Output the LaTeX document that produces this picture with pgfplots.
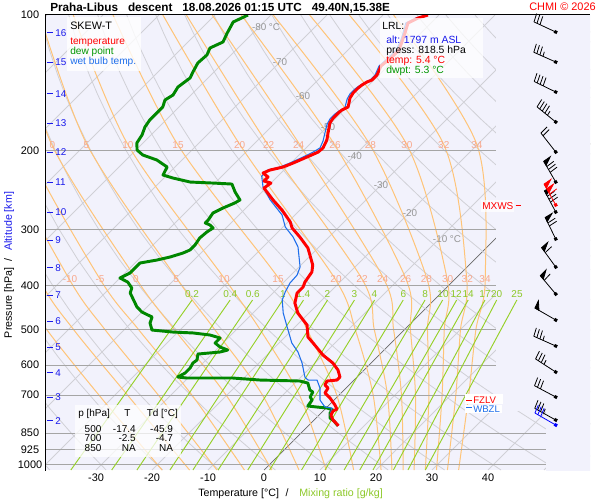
\documentclass[border=0pt]{standalone}
\usepackage{fontspec}
\setmainfont{Liberation Sans}
\usepackage{pgfplots}
\usepackage{pgfplotstable}
\pgfplotsset{compat=1.18}
\newcommand\fs[1]{\fontsize{#1}{#1}\selectfont}
\definecolor{bglav}{RGB}{242,242,252}
\definecolor{isoc}{RGB}{208,208,214}
\definecolor{zeroiso}{RGB}{105,105,105}
\definecolor{isob}{RGB}{165,165,165}
\definecolor{moistc}{RGB}{255,196,120}
\definecolor{moistlab}{RGB}{248,168,140}
\definecolor{isolab}{RGB}{150,150,150}
\definecolor{mixc}{RGB}{150,208,40}
\definecolor{mixlab}{RGB}{140,200,40}
\definecolor{dewc}{RGB}{0,135,0}
\definecolor{dewtext}{RGB}{0,150,0}
\definecolor{wbc}{RGB}{30,110,235}
\definecolor{altblue}{RGB}{25,25,235}
\def\sk{34.89}
\def\pb{1026.3}
\tikzset{
  mlab/.style={font=\fs{7.5},text=moistlab,inner sep=0pt},
  xlab/.style={font=\fs{7.5},text=mixlab,inner sep=0pt},
  ilab/.style={font=\fs{7.4},text=isolab,inner sep=0pt},
  alab/.style={font=\fs{7.4},text=altblue,inner sep=0pt,anchor=west},
  tx/.style={anchor=base west,inner sep=0pt},
}
% ---------- wind barb mark ----------
\def\wpen{0}\def\wfull{0}\def\whalf{0}
\newdimen\barbY
\newcommand\bpen[1]{%
  \pgfpathmoveto{\pgfqpoint{0pt}{\dimexpr18pt-4pt*#1\relax}}%
  \pgfpathlineto{\pgfqpoint{6pt}{\dimexpr18.5pt-4pt*#1\relax}}%
  \pgfpathlineto{\pgfqpoint{0pt}{\dimexpr14.5pt-4pt*#1\relax}}%
  \pgfpathclose\pgfusepathqfillstroke}
\newcommand\bfeat[1]{%
  \pgfpathmoveto{\pgfqpoint{0pt}{\dimexpr\barbY-2.5pt*#1\relax}}%
  \pgfpathlineto{\pgfqpoint{6.5pt}{\dimexpr\barbY+0.8pt-2.5pt*#1\relax}}%
  \pgfusepathqstroke}
\newcommand\bhalf[1]{%
  \pgfpathmoveto{\pgfqpoint{0pt}{\dimexpr\barbY-2.5pt*#1\relax}}%
  \pgfpathlineto{\pgfqpoint{3.5pt}{\dimexpr\barbY+0.4pt-2.5pt*#1\relax}}%
  \pgfusepathqstroke}
\pgfdeclareplotmark{barb}{%
  \pgfpathmoveto{\pgfqpoint{0pt}{0pt}}%
  \pgfpathlineto{\pgfqpoint{0pt}{18pt}}%
  \pgfusepathqstroke
  \pgfpathrectangle{\pgfqpoint{-1.15pt}{-1.15pt}}{\pgfqpoint{2.3pt}{2.3pt}}%
  \pgfusepathqfill
  \barbY=18pt\relax
  \ifnum\wpen>0 \bpen{0}\barbY=\dimexpr18pt-4pt*\wpen-0.6pt\relax\fi
  \ifnum\wpen>1 \bpen{1}\fi
  \ifnum\wfull>0 \bfeat{0}\fi
  \ifnum\wfull>1 \bfeat{1}\fi
  \ifnum\wfull>2 \bfeat{2}\fi
  \ifnum\wfull>3 \bfeat{3}\fi
  \ifnum\wfull>4 \bfeat{4}\fi
  \ifnum\whalf>0 \bhalf{\wfull}\fi
}
% barb style: direction, pennants, full feathers, half feathers
\pgfplotsset{barb/.style n args={4}{only marks, mark=barb, line width=0.6pt,
  mark options={rotate=-#1},
  /utils/exec={\gdef\wpen{#2}\gdef\wfull{#3}\gdef\whalf{#4}}}}
% ---------- data ----------
\pgfplotstableread{
T p
-51.96 100.0
-53.2 101.6
-54.1 104.2
-52.86 109.65
-51.8 114.8
-50.9 119.6
-50.9 124.0
-51.25 129.8
-50.36 135.9
-50.36 139.5
-50.9 140.9
-51.25 143.1
-51.4 145.3
-51.4 149.1
-51.07 152.9
-49.8 160.1
-50.36 162.6
-50.5 165.1
-50.5 169.4
-50.2 173.8
-48.9 181.9
-47.7 189.6
-46.96 197.5
-47.1 201.7
-48.2 206.8
-49.6 213.3
-50.7 217.7
-52.5 221.1
-53.2 224.5
-51.6 229.1
-51.6 233.9
-50.0 236.3
-50.36 242.4
-46.6 257.7
-43.2 271.3
-39.6 288.4
-38.2 297.4
-35.2 311.5
-31.8 329.5
-27.9 359.5
-26.8 372.6
-26.25 392.2
-25.7 402.3
-25.7 414.8
-24.3 436.7
-22.0 459.6
-18.2 488.7
-15.9 519.6
-13.9 535.9
-10.0 569.8
-6.8 593.7
-4.64 615.3
-3.04 637.7
-3.04 647.6
-4.64 650.9
-4.29 664.4
-3.2 674.7
-2.86 692.2
-1.07 710.0
1.07 736.0
2.14 751.2
1.79 758.9
2.14 774.6
3.39 794.7
4.46 807.0
5.4 818.5
}\tempdata
\pgfplotstableread{
T p
-52.3 100
-53.6 101.6
-54.5 104.2
-53.2 109.65
-52.1 114.8
-51.4 119.6
-51.4 124.0
-51.6 129.8
-50.7 135.9
-50.7 139.5
-51.25 141.7
-51.6 143.8
-51.8 146.0
-51.8 149.8
-51.4 153.7
-50.2 161.0
-50.7 163.4
-50.9 165.9
-50.9 170.2
-50.5 174.7
-49.3 182.9
-48.2 190.6
-47.5 197.5
-48.0 201.7
-48.9 206.8
-50.2 213.3
-51.25 217.7
-52.9 221.1
-52.9 228.0
-50.7 241.2
-47.1 257.7
-42.3 278.3
-39.6 295.9
-36.4 311.5
-33.75 327.8
-29.8 363.2
-28.9 378.4
-28.75 394.2
-28.0 412.7
-27.1 430.0
-24.6 459.6
-21.4 493.7
-17.7 535.9
-15.0 561.1
-12.3 593.7
-9.3 637.7
-8.2 647.6
-6.6 647.6
-4.64 674.7
-2.5 717.4
-0.36 743.6
1.07 747.4
1.96 774.6
2.8 786.6
5.35 818.5
}\wbdata
\pgfplotstableread{
T p
-84.1 100
-85.5 103.65
-85.0 106.9
-84.6 109.65
-83.75 114.8
-85.0 118.4
-84.3 122.7
-84.5 127.8
-83.75 133.9
-83.2 138.0
-83.75 144.6
-83.2 150.6
-83.75 154.5
-82.9 160.1
-82.9 165.1
-82.9 171.1
-82.5 177.4
-81.6 184.8
-81.1 192.5
-79.8 199.6
-77.9 204.7
-74.5 210.0
-71.4 217.7
-70.7 226.8
-68.4 230.3
-64.6 235.1
-60.4 236.3
-56.8 237.5
-54.8 247.4
-52.5 257.7
-52.9 261.7
-54.1 268.5
-55.0 275.5
-54.6 285.5
-54.6 289.9
-53.4 292.9
-52.3 297.4
-52.7 303.6
-52.9 313.1
-52.5 324.5
-52.5 332.9
-53.2 338.1
-54.8 345.0
-56.6 350.4
-59.1 355.8
-59.1 365.1
-59.1 374.5
-60.0 384.3
-57.9 392.2
-56.1 404.4
-55.5 414.8
-51.8 445.6
-50.0 457.3
-47.3 469.1
-46.6 483.7
-45.0 501.4
-40.9 506.6
-37.1 509.0
-33.75 514.3
-31.4 522.3
-31.4 535.9
-29.8 547.0
-27.9 555.4
-28.9 561.1
-32.5 566.9
-31.6 584.6
-31.8 593.7
-31.4 609.0
-31.4 624.8
-32.0 637.7
-30.2 641.0
-22.0 641.0
-16.8 647.6
-9.5 650.9
-7.7 657.7
-6.1 681.6
-5.2 688.6
-4.8 706.4
-3.9 717.4
-3.6 739.8
-1.8 743.6
0.18 747.4
1.6 755.0
1.6 766.7
2.5 786.6
3.75 798.8
5.3 818.5
}\dewdata
% reference lines
\pgfplotstableread{
p
100
1026.3
}\twop
\pgfplotstableread{
p
100
110
120
135
150
170
200
230
260
300
350
400
450
500
575
650
750
850
950
1026.3
}\ptab
\pgfplotstableread{
p m20 m15 m10 m5 z0 w5 w10 w15 w20 w22 w24 w26 w28 w30 w32 w34
1026.3 -18.2 -13.3 -8.4 -3.5 1.4 6.25 11.1 16.0 20.9 22.85 24.85 26.8 28.8 30.8 32.75 34.75
700 -42.8 -37.7 -32.2 -26.2 -20.1 -13.6 -7.0 -0.35 6.15 8.7 11.2 13.7 16.1 18.45 20.9 23.2
500 -63.9 -59.1 -53.5 -47.5 -41.1 -33.9 -25.8 -17.4 -8.8 -5.4 -1.95 1.05 4.1 7.1 10.0 12.75
386.2 -78.8 -74.3 -68.9 -63.4 -56.9 -49.6 -41.1 -31.4 -21.4 -16.6 -12.7 -8.75 -5.0 -1.4 2.1 5.4
194.5 -113.4 -109.7 -105.3 -100.6 -95.9 -89.6 -82.3 -73.4 -62.3 -57.3 -51.6 -45.4 -39.1 -32.5 -25.9 -20.0
100 -141 -138 -134.4 -130.5 -126.3 -121.3 -115.3 -108.2 -99.3 -95.1 -90.5 -85.3 -79.6 -73.1 -66.0 -58.1
}\moist
\pgfplotstableread{
p r1 r2 r3 r4 r5 r6 r7 r8 r9 r10 r11 r12 r13 r14 r15 r16
430 -43.2 -36.4 -32.4 -27.0 -23.3 -19.0 -14.2 -10.6 -5.5 -1.6 1.55 4.05 6.1 9.1 11.2 14.8
1026.3 -34.5 -27.2 -22.7 -16.8 -12.7 -8.2 -2.9 1.0 6.7 10.9 14.3 17.1 19.45 23.1 25.7 28.8
}\mixtab
\begin{document}
\begin{tikzpicture}
\begin{axis}[
  at={(0,0)}, anchor=south west,
  scale only axis, width=408pt, height=341.25pt,
  xmin=-38.93, xmax=58.21, ymin=100, ymax=1026.3,
  ymode=log, y dir=reverse,
  axis line style={draw=none},
  axis background/.style={fill=bglav},
  xtick={-30,-20,-10,0,10,20,30,40},
  xticklabels={-30,-20,-10,0,10,20,30,40},
  ytick={100,200,300,400,500,600,700,850,925,1000},
  yticklabels={100,200,300,400,500,600,700,850,925,1000},
  tick style={draw=none}, major tick length=0pt, minor tick num=0,
  tick label style={font=\fs{8.2}, inner sep=0pt},
  yticklabel style={anchor=center, xshift=-12pt},
  xticklabel style={anchor=north, yshift=-3pt},
]
% isotherms
\pgfplotsinvokeforeach{-120,-110,-100,-90,-80,-70,-60,-50,-40,-30,-20,-10,10,20,30,40,50}{
  \addplot[isoc, line width=0.6pt] table[x expr={#1+\sk*ln(\pb/\thisrow{p})}, y=p]{\twop};
}
\addplot[zeroiso, line width=0.55pt] table[x expr={\sk*ln(\pb/\thisrow{p})}, y=p]{\twop};
% dry adiabats (theta in deg C)
\pgfplotsinvokeforeach{-40,-30,-20,-10,0,10,20,30,40,50,60,70,80,90,100,110,120,130,140,150,160,170,180,190,200,210}{
  \addplot[isoc, line width=0.6pt] table[x expr={(#1+273.15)*(\thisrow{p}/1000)^0.2857-273.15+\sk*ln(\pb/\thisrow{p})}, y=p]{\ptab};
}
% moist adiabats
\pgfplotsinvokeforeach{m20,m15,m10,m5,z0,w5,w10,w15,w20,w22,w24,w26,w28,w30,w32,w34}{
  \addplot[moistc, line width=0.75pt, smooth] table[x expr={\thisrow{#1}+\sk*ln(\pb/\thisrow{p})}, y=p]{\moist};
}
% isobars
\draw[isob, line width=0.75pt] (axis cs:-38.93,200) -- (axis cs:41.43,200);
\draw[isob, line width=0.75pt] (axis cs:-38.93,300) -- (axis cs:41.43,300);
\draw[isob, line width=0.75pt] (axis cs:-38.93,400) -- (axis cs:41.43,400);
\draw[isob, line width=0.75pt] (axis cs:-38.93,500) -- (axis cs:41.43,500);
\draw[isob, line width=0.75pt] (axis cs:-38.93,600) -- (axis cs:41.43,600);
\draw[isob, line width=0.75pt] (axis cs:-38.93,700) -- (axis cs:41.43,700);
\draw[isob, line width=0.75pt] (axis cs:-38.93,850) -- (axis cs:50.36,850);
\draw[isob, line width=0.75pt] (axis cs:-38.93,925) -- (axis cs:50.36,925);
\draw[isob, line width=0.75pt] (axis cs:-38.93,1000) -- (axis cs:50.36,1000);
% diagram region limits
\fill[bglav] (axis cs:41.5,95) rectangle (axis cs:59,760);
\fill[bglav] (axis cs:50.43,760) rectangle (axis cs:59,1040);
% mixing ratio lines
\pgfplotsinvokeforeach{r1,r2,r3,r4,r5,r6,r7,r8,r9,r10,r11,r12,r13,r14,r15,r16}{
  \addplot[mixc, line width=0.7pt] table[x expr={\thisrow{#1}+\sk*ln(\pb/\thisrow{p})}, y=p]{\mixtab};
}
% isotherm labels
\node[ilab] at (axis cs:0.36,106.3) {-80 °C};
\node[ilab] at (axis cs:2.86,127.2) {-70};
\node[ilab] at (axis cs:6.96,151.4) {-60};
\node[ilab] at (axis cs:11.43,177.1) {-50};
\node[ilab] at (axis cs:16.2,205.6) {-40};
\node[ilab] at (axis cs:20.9,238.7) {-30};
\node[ilab] at (axis cs:26.07,274.9) {-20};
\node[ilab] at (axis cs:32.68,314.9) {-10 °C};
% moist adiabat labels
\node[mlab] at (axis cs:-37.8,194.5) {0};
\node[mlab] at (axis cs:-31.7,194.5) {5};
\node[mlab] at (axis cs:-24.3,194.5) {10};
\node[mlab] at (axis cs:-15.36,194.5) {15};
\node[mlab] at (axis cs:-4.34,194.5) {20};
\node[mlab] at (axis cs:0.83,194.5) {22};
\node[mlab] at (axis cs:6.2,194.5) {24};
\node[mlab] at (axis cs:12.68,194.5) {26};
\node[mlab] at (axis cs:19.0,194.5) {28};
\node[mlab] at (axis cs:25.5,194.5) {30};
\node[mlab] at (axis cs:32.1,194.5) {32};
\node[mlab] at (axis cs:38.0,194.5) {34};
\node[mlab] at (axis cs:-34.64,386.7) {-10};
\node[mlab] at (axis cs:-29.29,386.7) {-5};
\node[mlab] at (axis cs:-22.86,386.7) {0};
\node[mlab] at (axis cs:-15.71,386.7) {5};
\node[mlab] at (axis cs:-7.14,386.7) {10};
\node[mlab] at (axis cs:2.5,386.7) {15};
\node[mlab] at (axis cs:12.86,386.7) {20};
\node[mlab] at (axis cs:17.5,386.7) {22};
\node[mlab] at (axis cs:21.2,386.7) {24};
\node[mlab] at (axis cs:25.3,386.7) {26};
\node[mlab] at (axis cs:29.0,386.7) {28};
\node[mlab] at (axis cs:32.8,386.7) {30};
\node[mlab] at (axis cs:36.3,386.7) {32};
\node[mlab] at (axis cs:39.46,386.7) {34};
% mixing ratio labels
\node[xlab] at (axis cs:-12.86,417) {0.2};
\node[xlab] at (axis cs:-6.02,417) {0.4};
\node[xlab] at (axis cs:-2.0,417) {0.6};
\node[xlab] at (axis cs:3.36,417) {1};
\node[xlab] at (axis cs:7.02,417) {1.4};
\node[xlab] at (axis cs:11.34,417) {2};
\node[xlab] at (axis cs:16.16,417) {3};
\node[xlab] at (axis cs:19.73,417) {4};
\node[xlab] at (axis cs:24.88,417) {6};
\node[xlab] at (axis cs:28.79,417) {8};
\node[xlab] at (axis cs:31.96,417) {10};
\node[xlab] at (axis cs:34.32,417) {12};
\node[xlab] at (axis cs:36.46,417) {14};
\node[xlab] at (axis cs:39.46,417) {17};
\node[xlab] at (axis cs:41.55,417) {20};
\node[xlab] at (axis cs:45.18,417) {25};
% altitude scale
\draw[altblue, line width=0.75pt] (axis cs:-38.75,109.6) -- (axis cs:-37.68,109.6); \node[alab] at (axis cs:-37.32,109.6) {16};
\draw[altblue, line width=0.75pt] (axis cs:-38.75,127.2) -- (axis cs:-37.68,127.2); \node[alab] at (axis cs:-37.32,127.2) {15};
\draw[altblue, line width=0.75pt] (axis cs:-38.75,149.8) -- (axis cs:-37.68,149.8); \node[alab] at (axis cs:-37.32,149.8) {14};
\draw[altblue, line width=0.75pt] (axis cs:-38.75,173.8) -- (axis cs:-37.68,173.8); \node[alab] at (axis cs:-37.32,173.8) {13};
\draw[altblue, line width=0.75pt] (axis cs:-38.75,201.6) -- (axis cs:-37.68,201.6); \node[alab] at (axis cs:-37.32,201.6) {12};
\draw[altblue, line width=0.75pt] (axis cs:-38.75,235.1) -- (axis cs:-37.68,235.1); \node[alab] at (axis cs:-37.32,235.1) {11};
\draw[altblue, line width=0.75pt] (axis cs:-38.75,274.1) -- (axis cs:-37.68,274.1); \node[alab] at (axis cs:-37.32,274.1) {10};
\draw[altblue, line width=0.75pt] (axis cs:-38.75,316.3) -- (axis cs:-37.68,316.3); \node[alab] at (axis cs:-37.32,316.3) {9};
\draw[altblue, line width=0.75pt] (axis cs:-38.75,365.0) -- (axis cs:-37.68,365.0); \node[alab] at (axis cs:-37.32,365.0) {8};
\draw[altblue, line width=0.75pt] (axis cs:-38.75,419.1) -- (axis cs:-37.68,419.1); \node[alab] at (axis cs:-37.32,419.1) {7};
\draw[altblue, line width=0.75pt] (axis cs:-38.75,478.8) -- (axis cs:-37.68,478.8); \node[alab] at (axis cs:-37.32,478.8) {6};
\draw[altblue, line width=0.75pt] (axis cs:-38.75,546.9) -- (axis cs:-37.68,546.9); \node[alab] at (axis cs:-37.32,546.9) {5};
\draw[altblue, line width=0.75pt] (axis cs:-38.75,624.7) -- (axis cs:-37.68,624.7); \node[alab] at (axis cs:-37.32,624.7) {4};
\draw[altblue, line width=0.75pt] (axis cs:-38.75,706.4) -- (axis cs:-37.68,706.4); \node[alab] at (axis cs:-37.32,706.4) {3};
\draw[altblue, line width=0.75pt] (axis cs:-38.75,798.7) -- (axis cs:-37.68,798.7); \node[alab] at (axis cs:-37.32,798.7) {2};
% profiles
\addplot[dewc, line width=2.2pt, line join=round] table[x expr={\thisrow{T}+\sk*ln(\pb/\thisrow{p})}, y=p]{\dewdata};
\addplot[wbc, line width=0.8pt, line join=round] table[x expr={\thisrow{T}+\sk*ln(\pb/\thisrow{p})}, y=p]{\wbdata};
\addplot[red, line width=2.2pt, line join=round] table[x expr={\thisrow{T}+\sk*ln(\pb/\thisrow{p})}, y=p]{\tempdata};
% wind barbs: position (barb column, pressure); style args: direction, pennants, full, half
\addplot[black, fill=black, barb={295}{0}{3}{0}] coordinates {(52.09,109.1)};
\addplot[black, fill=black, barb={294}{0}{3}{1}] coordinates {(52.09,127.2)};
\addplot[black, fill=black, barb={296}{0}{4}{0}] coordinates {(52.09,148.3)};
\addplot[black, fill=black, barb={309}{0}{4}{1}] coordinates {(52.09,172.9)};
\addplot[black, fill=black, barb={322}{0}{2}{0}] coordinates {(52.09,201.6)};
\addplot[black, fill=black, barb={330}{1}{3}{0}] coordinates {(52.09,235.1)};
\addplot[black, fill=black, barb={332}{1}{3}{0}] coordinates {(52.09,274.1)};
\addplot[red, fill=red, barb={331}{2}{1}{0}] coordinates {(52.09,264.4)};
\addplot[black, fill=black, barb={334}{1}{2}{0}] coordinates {(52.09,314.7)};
\addplot[black, fill=black, barb={324}{1}{1}{0}] coordinates {(52.09,363.2)};
\addplot[black, fill=black, barb={320}{1}{1}{0}] coordinates {(52.09,417.0)};
\addplot[black, fill=black, barb={300}{1}{0}{0}] coordinates {(52.09,476.3)};
\addplot[black, fill=black, barb={294}{0}{3}{1}] coordinates {(52.09,544.1)};
\addplot[black, fill=black, barb={303}{0}{3}{1}] coordinates {(52.09,621.6)};
\addplot[black, fill=black, barb={298}{0}{3}{0}] coordinates {(52.09,706.4)};
\addplot[black, fill=black, barb={299}{0}{3}{1}] coordinates {(52.09,794.7)};
\addplot[blue, fill=blue, barb={300}{0}{3}{0}] coordinates {(52.09,815.3)};
\end{axis}
% ---------- overlay in pixel coordinates ----------
\begin{scope}[shift={(-34.5pt,352.5pt)},x=0.75pt,y=-0.75pt]
\draw[black, line width=0.75pt] (46,470.5) -- (46,15) -- (590,15);
\node[tx, font=\fs{8.8}\bfseries] at (50,11.7) {Praha-Libus\hspace{7.5pt}descent\hspace{7.5pt}18.08.2026 01:15 UTC\hspace{7.5pt}49.40N,15.38E};
\node[anchor=base east, inner sep=0pt, font=\fs{8.2}, text=red] at (596,10.7) {CHMI © 2026};
% legend box
\fill[white, fill opacity=0.8] (67,17) rectangle (141,71);
\node[tx, font=\fs{8.1}] at (70,30) {SKEW-T};
\node[tx, font=\fs{7.6}, text=red] at (70,45) {temperature};
\node[tx, font=\fs{7.6}, text=dewtext] at (70,54.5) {dew point};
\node[tx, font=\fs{7.6}, text=wbc] at (70,64.3) {wet bulb temp.};
% LRL box
\fill[white, fill opacity=0.75] (380,18) rectangle (483,78);
\node[tx, font=\fs{7.8}] at (382,30) {LRL:};
\node[tx, font=\fs{7.8}, text=altblue] at (386,43.3) {alt: 1797 m ASL};
\node[tx, font=\fs{7.8}] at (386,53.3) {press: 818.5 hPa};
\node[tx, font=\fs{7.8}, text=red] at (386,63.3) {temp: 5.4 °C};
\node[tx, font=\fs{7.8}, text=dewtext] at (386,73.3) {dwpt: 5.3 °C};
% table box
\fill[white, fill opacity=0.75] (75,405) rectangle (181,457);
\node[tx, font=\fs{7.5}] at (78,416.5) {p [hPa]};
\node[anchor=base, inner sep=0pt, font=\fs{7.5}] at (127.5,416.5) {T};
\node[tx, font=\fs{7.5}] at (146.5,416.5) {Td [°C]};
\node[anchor=base east, inner sep=0pt, font=\fs{7.5}] at (101.7,432.3) {500};
\node[anchor=base east, inner sep=0pt, font=\fs{7.5}] at (136,432.3) {-17.4};
\node[anchor=base east, inner sep=0pt, font=\fs{7.5}] at (173.3,432.3) {-45.9};
\node[anchor=base east, inner sep=0pt, font=\fs{7.5}] at (101.7,441.7) {700};
\node[anchor=base east, inner sep=0pt, font=\fs{7.5}] at (136,441.7) {-2.5};
\node[anchor=base east, inner sep=0pt, font=\fs{7.5}] at (173.3,441.7) {-4.7};
\node[anchor=base east, inner sep=0pt, font=\fs{7.5}] at (101.7,451.7) {850};
\node[anchor=base east, inner sep=0pt, font=\fs{7.5}] at (136,451.7) {NA};
\node[anchor=base east, inner sep=0pt, font=\fs{7.5}] at (173.3,451.7) {NA};
% MXWS
\fill[white, fill opacity=0.7] (481,200) rectangle (514,212);
\node[tx, font=\fs{7.5}, text=red] at (482,210) {MXWS};
\draw[red, line width=0.75pt] (515.5,206) -- (520.5,206);
% FZLV / WBZL
\fill[white] (465,394.5) rectangle (503,404.5);
\draw[red, line width=0.75pt] (466,400.3) -- (472,400.3);
\node[tx, font=\fs{7.2}, text=red] at (473,403.8) {FZLV};
\fill[white] (465,404.8) rectangle (502,413.5);
\draw[wbc, line width=0.75pt] (466,408) -- (472,408);
\node[tx, font=\fs{7.2}, text=wbc] at (473,412.3) {WBZL};
% axis titles
\node[rotate=90, anchor=center, inner sep=0pt, font=\fs{8}] at (9,265) {Pressure [hPa]\hspace{4.5pt}/\hspace{6pt}\textcolor{altblue}{Altitude [km]}};
\node[tx, font=\fs{8}] at (198,496.7) {Temperature [°C]\hspace{5pt}/\hspace{8pt}\textcolor{mixlab}{Mixing ratio [g/kg]}};
\end{scope}
\pgfresetboundingbox
\path[use as bounding box] (-34.5pt,-22.5pt) rectangle (415.5pt,352.5pt);
\end{tikzpicture}
\end{document}
